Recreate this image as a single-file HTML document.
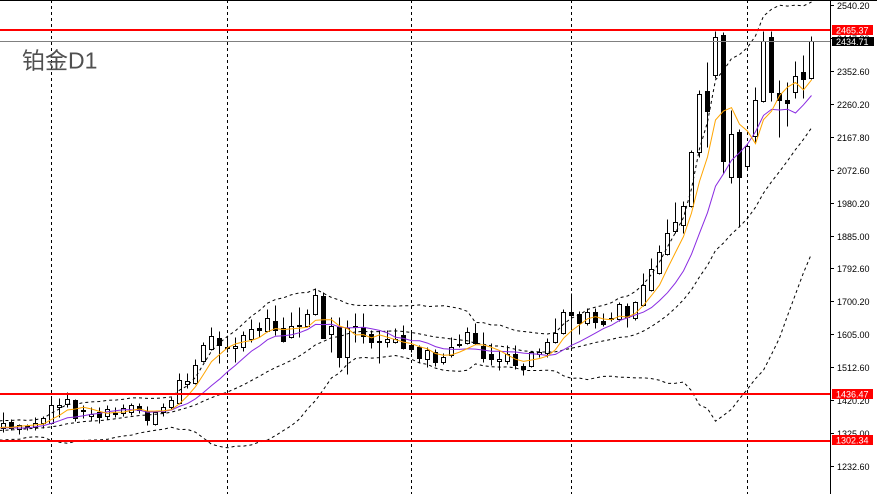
<!DOCTYPE html>
<html><head><meta charset="utf-8">
<style>
html,body{margin:0;padding:0;background:#fff;}
svg{display:block;}
</style></head>
<body>
<svg id="c" width="877" height="494" viewBox="0 0 877 494" xmlns="http://www.w3.org/2000/svg">
<rect x="0" y="0" width="877" height="494" fill="#ffffff"/>
<g stroke="#000" stroke-width="1" stroke-dasharray="3,3" fill="none">
<line x1="51.5" y1="0" x2="51.5" y2="494"/>
<line x1="227.5" y1="0" x2="227.5" y2="494"/>
<line x1="411.5" y1="0" x2="411.5" y2="494"/>
<line x1="571.5" y1="0" x2="571.5" y2="494"/>
<line x1="747.5" y1="0" x2="747.5" y2="494"/>
</g>
<g id="cand"></g>
<g id="ind"></g>
<line x1="0" y1="41.5" x2="830" y2="41.5" stroke="#808080" stroke-width="1"/>
<g fill="#ff0000">
<rect x="0" y="29" width="830" height="2"/>
<rect x="0" y="393" width="830" height="2"/>
<rect x="0" y="440" width="830" height="2"/>
</g>
<line x1="0" y1="0.5" x2="877" y2="0.5" stroke="#000" stroke-width="1"/>
<rect x="831" y="1" width="46" height="493" fill="#fff"/>
<line x1="830.5" y1="0" x2="830.5" y2="494" stroke="#000" stroke-width="1"/>
<g id="ticks" font-family="Liberation Sans, sans-serif" font-size="9" fill="#000"></g>
<g font-family="Liberation Sans, sans-serif" font-size="9" fill="#fff">
<rect x="832" y="25" width="41" height="10" fill="#ff0000"/>
<text x="836" y="33.5" fill="#fff">2465.37</text>
<rect x="832" y="37" width="42" height="9" fill="#000"/>
<text x="836" y="44.8" fill="#fff">2434.71</text>
<rect x="832" y="389" width="41" height="10" fill="#ff0000"/>
<text x="836" y="397.3" fill="#fff">1436.47</text>
<rect x="832" y="435" width="41" height="10" fill="#ff0000"/>
<text x="836" y="443.5" fill="#fff">1302.34</text>
</g>
<text x="22" y="68.5" font-family="Liberation Sans, 'Noto Sans CJK SC', sans-serif" font-size="23" fill="#505050">铂金D1</text>
</svg>
<script>
(function(){
var NS="http://www.w3.org/2000/svg";
var D=[
[428.3,422.5,412,431.7],[422.3,428.3,418.5,429.5],[429.3,425,424,433.5],[427.3,426,424,430],[427.3,422.7,417,430],
[423.3,418.3,416,428],[423,405,397,424],[406.5,404.5,397.5,417],[404.3,399.3,392,407],[400,418,399,421],
[411,409.5,405,418],[416,413.5,407,420],[412,416.7,406.5,422.5],[416,409.3,405.3,419.3],[413.5,412.5,407,416.5],
[413,408.3,404,416],[412,405.3,403,415],[406,409.5,403,413],[410.5,420,406,424.5],[424.3,412,411,425],
[412,406.7,403,416],[406.7,400,397,409],[403.3,380,373,404],[384,381.3,373,388],[383.3,365.3,359.3,384],
[360.7,345.3,342,362],[349.3,336,326.7,350],[338.3,345.3,331.3,362.7],[347.5,346.5,338,352],[348.3,346.3,336.7,361.7],
[347.3,335.3,331,351.3],[339,329.3,319.3,342.3],[328.3,329.7,321.7,336.7],[331.3,318.3,309.3,332],[321.3,330,305.3,335],
[328.3,340.7,317.3,341.5],[337.3,326,312,338],[326,325.3,307.3,337.3],[326,314.3,309.3,327],[314.3,295.3,288.3,315],
[296,337.5,291.7,338],[334.3,326,317.3,351.7],[327,356.7,317.3,367.3],[357.3,327.5,320,374],[326,327,313,341.5],
[327.3,336,313.3,343],[334.3,342,330,348],[341,342,330,363.3],[342.3,339,330,346.7],[341.7,339.3,328,343.3],
[335.3,348.3,325,349.3],[345,348.7,330,351.7],[347.3,358.3,345,362.3],[359,350,346.7,366.7],[352.3,362.3,349.3,366],
[362.3,357.3,353.3,364],[355.3,346.7,336.7,356.7],[345,344.3,334.3,346.7],[342.7,331.7,326.7,344.3],[332.7,343.3,323.3,344],
[346,358.3,332.3,361.7],[354,359.3,343.3,365],[360.7,359.3,350,370],[360.7,354.3,345,364],[354.3,365,345,369.3],
[366,369,363,375.3],[365.7,352.3,351,366.7],[354,351.7,348.3,356.7],[353.3,342.3,338.3,356.7],[341.7,332.7,318.3,343.3],
[332.7,312.3,309,334],[312.3,314.5,292.7,346.7],[314,322.7,311,334.3],[322.7,311.7,308.3,325],[312.3,321.7,308.3,327.7],
[321,324.3,313.3,326],[319,318.3,311.7,320.7],[319,304.3,301.7,321],[306,316.7,302.7,326.7],[318.3,302.3,300.7,320],
[305,285,273.3,306],[290,269,258.3,291],[273.3,252.3,245,274],[254.3,233.3,219,255],[231,222.3,201.7,233.3],
[225,205.5,201,233.3],[206,151.7,150,207],[152.3,94.3,90,156.7],[91,111.3,61.7,146.7],[75.3,37.3,30.7,78],
[34.7,160.7,31.7,173.3],[177.3,134.3,110,183.3],[132.3,177.3,129,226.7],[166,146,143.3,168],[136,100,86.7,143.3],
[101,41,30.7,102],[37.3,91.7,30.7,101],[92.7,100,80,136.7],[100,103.3,81.7,126],[92.3,76,61,97.7],
[71.7,78.7,55,97.7],[77.7,41.3,35.7,78.5]
];
var pre=[430,434,428,436,432,440,434,428,424,430,436,438,432,426,422,428,434,430,427,431,429,426];
var off=pre.length;
var closes=pre.concat(D.map(function(d){return d[1];}));
function X(k){return 3.5+8*(k-off);}
var cg=document.getElementById('cand');
function el(n,a,p){var e=document.createElementNS(NS,n);for(var k in a)e.setAttribute(k,a[k]);p.appendChild(e);return e;}
D.forEach(function(d,i){
  var cx=3.5+8*i;
  var hi=Math.round(d[2])+0.5, lo=Math.round(d[3])+0.5;
  el('line',{x1:cx,y1:hi,x2:cx,y2:lo,stroke:'#000','stroke-width':1},cg);
  var t=Math.round(Math.min(d[0],d[1]))+0.5, b=Math.round(Math.max(d[0],d[1]))+0.5;
  var bull=d[1]<d[0];
  if(b-t<1){el('line',{x1:cx-2.5,y1:t,x2:cx+2.5,y2:t,stroke:'#000','stroke-width':1},cg);}
  else el('rect',{x:cx-2,y:t,width:4,height:b-t,fill:bull?'#fff':'#000',stroke:'#000','stroke-width':1},cg);
});
function sma(n,k){var s=0;for(var j=k-n+1;j<=k;j++)s+=closes[j];return s/n;}
function sd(n,k,m){var s=0;for(var j=k-n+1;j<=k;j++){var v=closes[j]-m;s+=v*v;}return Math.sqrt(s/n);}
var ig=document.getElementById('ind');
var up=[],mid=[],dn=[],m5=[],m10=[];
for(var k=off-2;k<closes.length;k++){
  var x=X(k);
  var m=sma(20,k),s=sd(20,k,m);
  up.push(x.toFixed(1)+','+(m-2*s).toFixed(1));
  mid.push(x.toFixed(1)+','+m.toFixed(1));
  dn.push(x.toFixed(1)+','+(m+2*s).toFixed(1));
  m5.push(x.toFixed(1)+','+sma(5,k).toFixed(1));
  m10.push(x.toFixed(1)+','+sma(10,k).toFixed(1));
}
[up,mid,dn].forEach(function(p){el('polyline',{points:p.join(' '),fill:'none',stroke:'#000','stroke-width':1,'stroke-dasharray':'3,3'},ig);});
el('polyline',{points:m10.join(' '),fill:'none',stroke:'#8a2be2','stroke-width':1},ig);
el('polyline',{points:m5.join(' '),fill:'none',stroke:'#ffa500','stroke-width':1},ig);
var labels=['2540.20','2447.80','2352.60','2260.20','2167.80','2072.60','1980.20','1885.00','1792.60','1700.20','1605.00','1512.60','1420.20','1325.00','1232.60'];
var tg=document.getElementById('ticks');
labels.forEach(function(l,i){
  var y=Math.round(5+32.93*i)+0.5;
  el('line',{x1:830,y1:y,x2:834,y2:y,stroke:'#000','stroke-width':1},tg);
  var t=el('text',{x:837,y:y+3.3},tg);t.textContent=l;
});
})();
</script>
</body></html>
